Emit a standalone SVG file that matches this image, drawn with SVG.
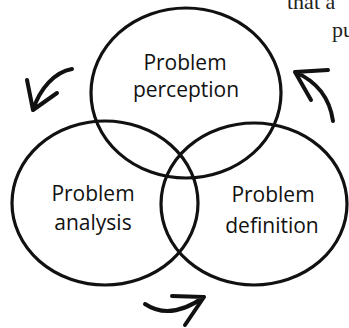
<svg xmlns="http://www.w3.org/2000/svg" width="349" height="328" viewBox="0 0 349 328">
<style>
.ring{fill:none;stroke:#111;stroke-width:3.2}
.lbl{font-family:"Open Sans","Noto Sans","DejaVu Sans",sans-serif;font-size:21px;fill:#111;text-anchor:middle}
.pg{font-family:"Liberation Serif","DejaVu Serif",serif;font-size:22px;fill:#222}
.arr{fill:none;stroke:#111;stroke-width:4;stroke-linecap:round;stroke-linejoin:round}
</style>
<rect width="349" height="328" fill="#fff"/>
<text class="pg" x="287" y="9">that a</text>
<text class="pg" x="332" y="37">pu</text>
<g id="perception">
<ellipse class="ring" cx="186" cy="93" rx="95" ry="85"/>
<text class="lbl" x="185" y="70">Problem</text>
<text class="lbl" x="186" y="97">perception</text>
</g>
<g id="analysis">
<ellipse class="ring" cx="105" cy="203" rx="93" ry="82"/>
<text class="lbl" x="93" y="201">Problem</text>
<text class="lbl" x="93" y="230">analysis</text>
</g>
<g id="definition">
<ellipse class="ring" cx="254" cy="204" rx="93" ry="81"/>
<text class="lbl" x="273" y="202">Problem</text>
<text class="lbl" x="272" y="233">definition</text>
</g>
<g id="connectors">
<path class="arr" d="M72,69 C55,72 40,88 33,110 M27,80 L33,110 L57,93"/>
<path class="arr" d="M333,121 C330,100 318,82 295,72 M328,70 L295,72 L311,100"/>
<path class="arr" d="M145,304 C160,314 180,314 204,297 M172,296 L204,297 L185,325"/>
</g>
</svg>
